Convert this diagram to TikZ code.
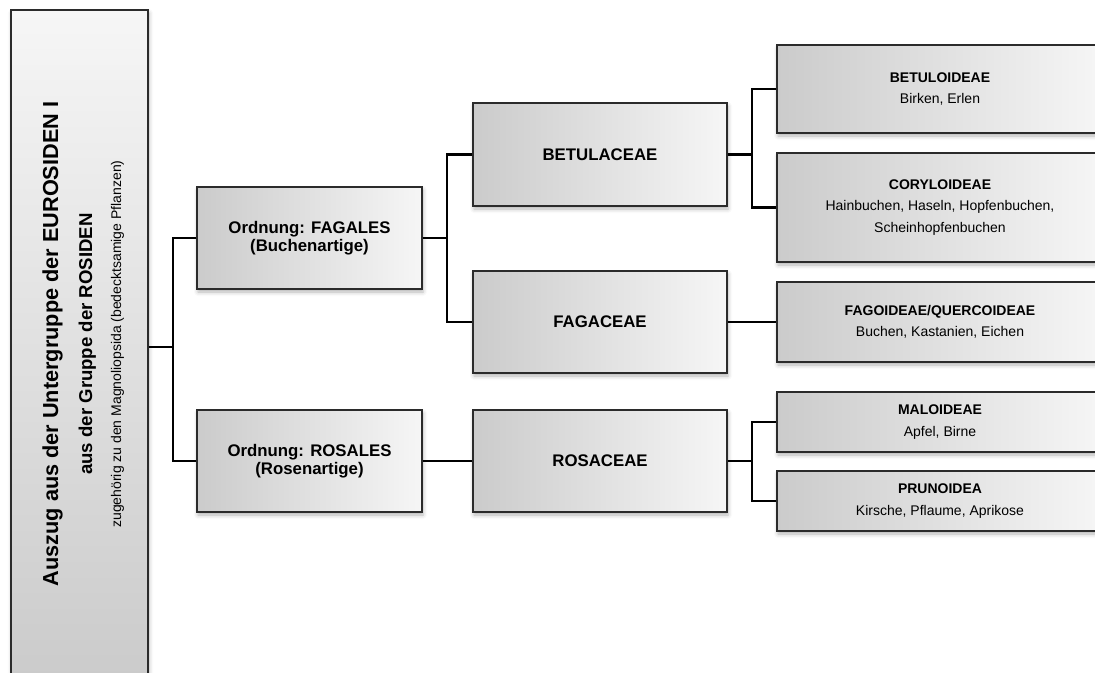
\documentclass[tikz,border=0pt]{standalone}
\usepackage{fontspec}
\setmainfont{Liberation Sans}
\usetikzlibrary{shadows.blur}
\definecolor{boxdark}{HTML}{CBCBCB}
\definecolor{boxlight}{HTML}{F6F6F6}
\definecolor{boxline}{HTML}{2B2B2B}
\begin{document}
\begin{tikzpicture}[x=1pt,y=-1pt,
  box/.style={draw=boxline, line width=1.3pt, inner sep=0pt, align=center,
    left color=boxdark, right color=boxlight,
    blur shadow={shadow xshift=1pt, shadow yshift=-3pt, shadow blur radius=4pt, shadow opacity=30}},
  rootbox/.style={draw=boxline, line width=1.3pt, inner sep=0pt,
    top color=boxlight, bottom color=boxdark,
    blur shadow={shadow xshift=1pt, shadow yshift=-3pt, shadow blur radius=4pt, shadow opacity=30},
    minimum width=137pt, minimum height=668pt},
  ordbox/.style={box, minimum width=225pt, minimum height=102pt, font=\fontsize{16.8}{18}\selectfont\bfseries},
  fambox/.style={box, minimum width=254pt, minimum height=102pt, font=\fontsize{16.8}{18}\selectfont\bfseries},
  subbox/.style={box, minimum width=326pt, font=\fontsize{14}{21.5}\selectfont},
  roottext/.style={rotate=90, anchor=base},
  conn/.style={line width=2.8pt, black}
]
\useasboundingbox (0,0) rectangle (1095,672);
\clip (0,0) rectangle (1095,672);

% root
\node[rootbox] (root) at (79.5,344) {};
\node[roottext, font=\fontsize{21.7}{26}\selectfont\bfseries] (t1) at (58,344) {Auszug aus der Untergruppe der EUROSIDEN I};
\node[roottext, font=\fontsize{18.6}{22}\selectfont\bfseries] (t2) at (92,344) {aus der Gruppe der ROSIDEN};
\node[roottext, font=\fontsize{14}{17}\selectfont] (t3) at (121,344) {zugehörig zu den Magnoliopsida (bedecktsamige Pflanzen)};

% orders
\node[ordbox] (fagales) at (309.5,238) {Ordnung: FAGALES\\(Buchenartige)};
\node[ordbox] (rosales) at (309.5,461) {Ordnung: ROSALES\\(Rosenartige)};

% families
\node[fambox, minimum height=103pt] (betulaceae) at (600,154.5) {BETULACEAE};
\node[fambox] (fagaceae) at (600,322) {FAGACEAE};
\node[fambox] (rosaceae) at (600,461) {ROSACEAE};

% subfamilies
\node[subbox, minimum height=88pt] (betuloideae) at (940,89) {\textbf{BETULOIDEAE}\\Birken, Erlen};
\node[subbox, minimum height=109pt] (coryloideae) at (940,207.5) {\textbf{CORYLOIDEAE}\\Hainbuchen, Haseln, Hopfenbuchen,\\Scheinhopfenbuchen};
\node[subbox, minimum height=80pt] (fagoideae) at (940,322) {\textbf{FAGOIDEAE/QUERCOIDEAE}\\Buchen, Kastanien, Eichen};
\node[subbox, minimum height=60pt] (maloideae) at (940,422) {\textbf{MALOIDEAE}\\Apfel, Birne};
\node[subbox, minimum height=60pt] (prunoidea) at (940,501) {\textbf{PRUNOIDEA}\\Kirsche, Pflaume, Aprikose};

% connectors
\coordinate (j1) at (173,347);
\draw[conn] (root.east |- j1) -- (j1);
\draw[conn] (fagales.west) -| (j1) |- (rosales.west);

\coordinate (j2) at (447,238);
\draw[conn] (fagales.east) -- (j2);
\draw[conn] (betulaceae.west) -| (j2) |- (fagaceae.west);

\coordinate (j3) at (752,153);
\draw[conn] (betulaceae.east) -- (betulaceae.east -| j3);
\draw[conn] (betuloideae.west) -| (j3) |- (coryloideae.west);

\draw[conn] (fagaceae.east) -- (fagoideae.west);
\draw[conn] (rosales.east) -- (rosaceae.west);

\coordinate (j4) at (752,461);
\draw[conn] (rosaceae.east) -- (j4);
\draw[conn] (maloideae.west) -| (j4) |- (prunoidea.west);
\end{tikzpicture}
\end{document}
